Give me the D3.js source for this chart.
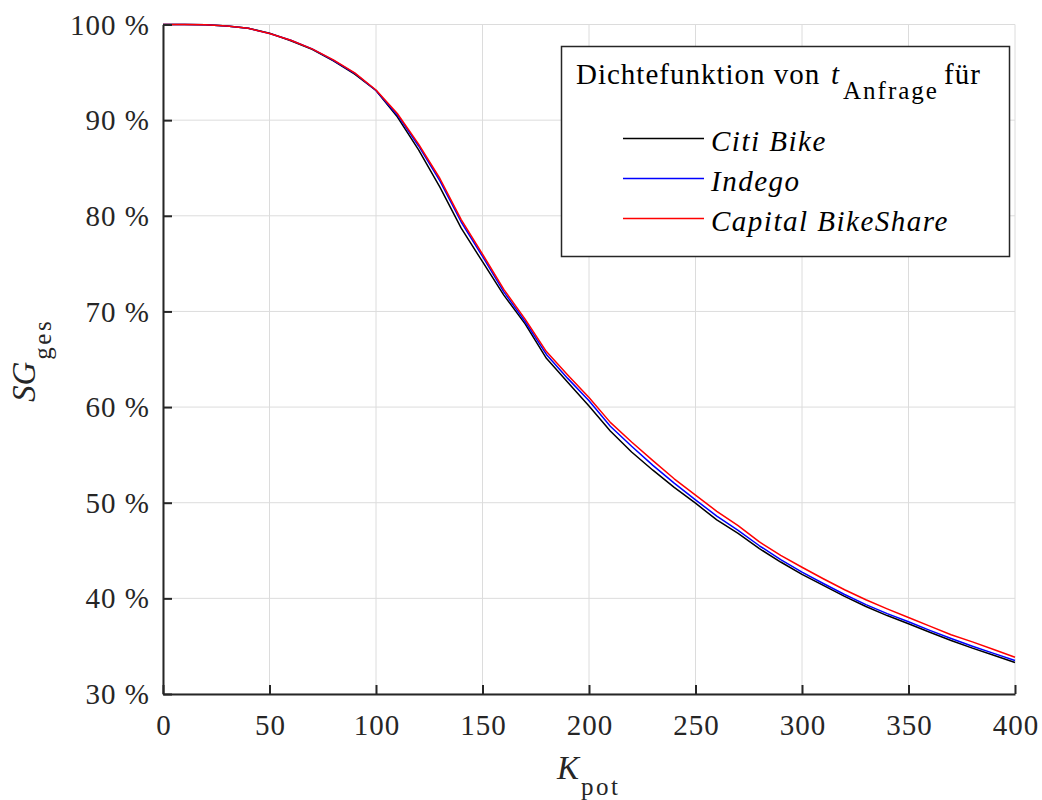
<!DOCTYPE html>
<html>
<head>
<meta charset="utf-8">
<script src="https://cdn.jsdelivr.net/npm/d3@7"></script>
<style>
  html, body { margin: 0; padding: 0; background: #fff; }
  svg { display: block; }
</style>
</head>
<body>
<svg id="chart" width="1042" height="800"></svg>
<script>
// K_pot sample points
const kPot = [0, 10, 20, 30, 40, 50, 60, 70, 80, 90, 100, 110, 120, 130, 140, 150, 160, 170, 180, 190, 200,
  210, 220, 230, 240, 250, 260, 270, 280, 290, 300, 310, 320, 330, 340, 350, 360, 370, 380, 390, 400];

// SG_ges in percent for each request-time density
const citiBike = [100, 100, 99.98, 99.85, 99.6, 99.1, 98.3, 97.4, 96.2, 94.8, 93.1, 90.35, 86.9, 83.0, 78.7, 75.2, 71.7, 68.7, 65.1, 62.6, 60.1,
  57.5, 55.3, 53.4, 51.6, 49.95, 48.2, 46.8, 45.2, 43.8, 42.5, 41.35, 40.2, 39.15, 38.2, 37.35, 36.45, 35.6, 34.8, 34.05, 33.3];
const indego = [100, 100, 99.98, 99.85, 99.6, 99.05, 98.35, 97.45, 96.25, 94.9, 93.1, 90.55, 87.3, 83.65, 79.35, 75.75, 72.05, 68.95, 65.5, 63.0, 60.65,
  58.0, 55.9, 53.9, 52.05, 50.3, 48.6, 47.1, 45.5, 44.05, 42.75, 41.55, 40.4, 39.35, 38.4, 37.55, 36.65, 35.8, 35.0, 34.25, 33.5];
const capitalBikeShare = [100, 100, 99.98, 99.85, 99.6, 99.05, 98.35, 97.45, 96.3, 94.95, 93.15, 90.7, 87.5, 83.9, 79.6, 76.0, 72.3, 69.2, 65.8, 63.35, 61.0,
  58.4, 56.35, 54.4, 52.5, 50.8, 49.1, 47.6, 45.9, 44.5, 43.25, 42.05, 40.9, 39.85, 38.9, 38.0, 37.1, 36.2, 35.45, 34.65, 33.85];

const seriesNames = ["Citi Bike", "Indego", "Capital BikeShare"];
const seriesColors = ["#000000", "#0000ff", "#ff0000"];
const seriesValues = [citiBike, indego, capitalBikeShare];

const xTicks = [0, 50, 100, 150, 200, 250, 300, 350, 400];
const yTicks = [30, 40, 50, 60, 70, 80, 90, 100];

const FONT = '"Liberation Serif"';
const svg = d3.select("#chart");
const plot = { left: 163, right: 1015, top: 24.5, bottom: 694 };

const x = d3.scaleLinear().domain([0, 400]).range([plot.left, plot.right]);
const y = d3.scaleLinear().domain([30, 100]).range([plot.bottom, plot.top]);

// grid
const grid = svg.append("g").attr("stroke", "#dcdcdc").attr("stroke-width", 1);
xTicks.forEach(t => {
  grid.append("line").attr("x1", x(t)).attr("x2", x(t)).attr("y1", plot.top).attr("y2", plot.bottom);
});
yTicks.forEach(t => {
  grid.append("line").attr("x1", plot.left).attr("x2", plot.right).attr("y1", y(t)).attr("y2", y(t));
});

// curves
const line = d3.line().x(d => x(d[0])).y(d => y(d[1]));
seriesValues.forEach((vals, i) => {
  svg.append("path")
    .datum(kPot.map((k, j) => [k, vals[j]]))
    .attr("fill", "none")
    .attr("stroke", seriesColors[i])
    .attr("stroke-width", 1.5)
    .attr("stroke-linejoin", "round")
    .attr("d", line);
});

// axes with inward ticks
const xAxis = d3.axisBottom(x).tickValues(xTicks).tickSizeInner(-9).tickSizeOuter(0);
const yAxis = d3.axisLeft(y).tickValues(yTicks).tickSizeInner(-9).tickSizeOuter(0)
  .tickFormat(d => d + " %");

const gx = svg.append("g").attr("transform", `translate(0,${plot.bottom})`).call(xAxis);
const gy = svg.append("g").attr("transform", `translate(${plot.left},0)`).call(yAxis);
[gx, gy].forEach(g => {
  g.attr("font-family", null).attr("font-size", null);
  g.select(".domain").attr("stroke", "#262626").attr("stroke-width", 2);
  g.selectAll(".tick line").attr("stroke", "#262626").attr("stroke-width", 2);
  g.selectAll(".tick text").attr("fill", "#262626")
    .style("font-family", FONT).style("font-size", "29px").style("letter-spacing", "1px");
});
gx.selectAll(".tick text").attr("y", 41).attr("dy", null).attr("dx", "0.5");
gy.selectAll(".tick text").attr("x", -13).attr("dy", "0.33em");

// axis titles
const xTitle = svg.append("text").attr("x", 557).attr("y", 779).attr("fill", "#262626")
  .style("font-family", FONT).style("font-size", "33px");
xTitle.append("tspan").attr("font-style", "italic").text("K");
xTitle.append("tspan").attr("dy", 16).attr("dx", 2).style("font-size", "25px").style("letter-spacing", "2.5px").text("pot");

const yTitle = svg.append("text").attr("transform", "translate(35,402) rotate(-90)").attr("fill", "#262626")
  .style("font-family", FONT).style("font-size", "33px");
yTitle.append("tspan").attr("font-style", "italic").text("SG");
yTitle.append("tspan").attr("dy", 16).attr("dx", 2).style("font-size", "25px").style("letter-spacing", "2.5px").text("ges");

// legend
const lg = svg.append("g");
lg.append("rect").attr("x", 561.5).attr("y", 46.5).attr("width", 448).attr("height", 210)
  .attr("fill", "#fff").attr("stroke", "#262626").attr("stroke-width", 1.5);
const lt = lg.append("text").attr("x", 576).attr("y", 84).attr("fill", "#000")
  .style("font-family", FONT).style("font-size", "29px").style("letter-spacing", "1px");
lt.append("tspan").text("Dichtefunktion von");
lt.append("tspan").attr("x", 831).attr("font-style", "italic").text("t");
lt.append("tspan").attr("x", 843).attr("dy", 15).style("font-size", "25px").style("letter-spacing", "2px").text("Anfrage");
lt.append("tspan").attr("x", 944).attr("dy", -15).text("für");

const legY = d3.scalePoint().domain(seriesNames).range([138.5, 218.5]);
seriesNames.forEach((name, i) => {
  lg.append("line").attr("x1", 623).attr("x2", 704).attr("y1", legY(name)).attr("y2", legY(name))
    .attr("stroke", seriesColors[i]).attr("stroke-width", 1.5);
  lg.append("text").attr("x", 711).attr("y", legY(name) + 12).attr("fill", "#000")
    .attr("font-style", "italic").style("font-family", FONT).style("font-size", "29px")
    .style("letter-spacing", "1.5px").text(name);
});
</script>
</body>
</html>
